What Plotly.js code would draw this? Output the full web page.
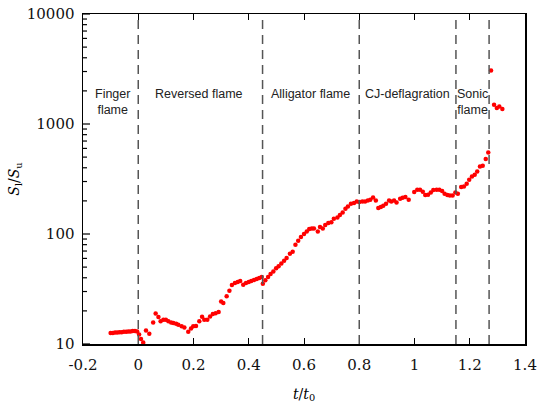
<!DOCTYPE html>
<html>
<head>
<meta charset="utf-8">
<script src="https://cdn.plot.ly/plotly-3.0.1.min.js"></script>
<style>
  html, body { margin: 0; padding: 0; background: #fff; }
  #myDiv { width: 546px; height: 406px; }
</style>
</head>
<body>
<div id="myDiv"></div>
<script>
// t/t0 and flame speed ratio
var tRatio = [
    -0.100, -0.092, -0.084, -0.076, -0.068, -0.060, -0.052, -0.044, -0.036, -0.028, -0.020, -0.012, -0.004,
    0.003, 0.010, 0.018, 0.028, 0.040, 0.054, 0.063, 0.073, 0.081, 0.091, 0.100, 0.109, 0.119, 0.127,
    0.137, 0.145, 0.157, 0.167, 0.181, 0.191, 0.199, 0.209, 0.221, 0.231, 0.239, 0.250, 0.260, 0.270,
    0.280, 0.291, 0.300, 0.308, 0.320, 0.330, 0.339, 0.350, 0.360, 0.369, 0.380, 0.390, 0.400, 0.409,
    0.419, 0.429, 0.438, 0.447, 0.451, 0.460, 0.470, 0.479, 0.489, 0.499, 0.508, 0.518, 0.528, 0.537,
    0.549, 0.559, 0.569, 0.579, 0.589, 0.600, 0.610, 0.619, 0.628, 0.636, 0.650, 0.658, 0.668, 0.677,
    0.688, 0.699, 0.708, 0.721, 0.730, 0.740, 0.750, 0.759, 0.770, 0.781, 0.791, 0.800, 0.811, 0.821,
    0.831, 0.840, 0.850, 0.860, 0.869, 0.878, 0.887, 0.897, 0.908, 0.916, 0.926, 0.935, 0.948, 0.957,
    0.967, 0.979, 0.999, 1.010, 1.020, 1.030, 1.039, 1.049, 1.059, 1.068, 1.080, 1.090, 1.100, 1.109,
    1.119, 1.128, 1.138, 1.148, 1.157, 1.169, 1.179, 1.189, 1.198, 1.208, 1.218, 1.227, 1.237, 1.247,
    1.258, 1.267, 1.277, 1.288, 1.298, 1.307, 1.318
];
var speedRatio = [
    12.6, 12.6, 12.7, 12.7, 12.8, 12.8, 12.9, 12.9, 13.0, 13.0, 13.1, 13.1, 13.0,
    12.2, 11.1, 10.3, 13.3, 12.4, 15.7, 18.9, 17.6, 16.1, 16.6, 16.6, 16.1, 15.7, 15.5,
    15.3, 15.0, 14.5, 14.1, 12.9, 13.8, 14.5, 14.6, 16.1, 17.7, 16.6, 16.6, 17.8, 18.7,
    19.0, 19.5, 24.4, 23.6, 27.1, 30.5, 34.4, 35.9, 36.6, 37.4, 34.6, 35.9, 36.6, 37.4,
    38.2, 39.0, 39.8, 40.6, 35.3, 37.9, 40.6, 43.3, 45.7, 48.7, 50.8, 54.0, 57.2, 60.5,
    66.2, 69.0, 80.0, 86.9, 93.9, 100, 105.6, 111.1, 112.4, 112.4, 105.6, 115.8, 112.4, 120.7,
    125.9, 127.6, 137.8, 141.5, 148.8, 157.2, 169.9, 178.2, 188.5, 191.3, 197.9, 195.3, 197.9, 197.9,
    202, 205, 215, 202, 172.4, 175.9, 180.8, 188.5, 202, 197.9, 202, 193.8, 209.3, 213.8,
    216.9, 205, 240.9, 252.7, 252.7, 242.4, 226.2, 227.6, 238.9, 251.2, 252.7, 252.7, 246, 232.5,
    226.2, 224.4, 224.4, 238.9, 232.5, 267.5, 270.9, 286.6, 311.6, 334, 346, 370.8, 411.7, 417.8,
    480.6, 552, 3070, 1497, 1398, 1445, 1369
];

// regime boundaries (t/t0) and labels
var phaseBoundaries = [0, 0.45, 0.8, 1.15, 1.27];
var phaseLabels = ['Finger<br>flame', 'Reversed flame', 'Alligator flame', 'CJ-deflagration', 'Sonic<br>flame'];
var phaseLabelX = [-0.095, 0.22, 0.625, 0.975, 1.21];

var xTickVals = [-0.2, 0, 0.2, 0.4, 0.6, 0.8, 1, 1.2, 1.4];
var xTickText = ['-0.2', '0', '0.2', '0.4', '0.6', '0.8', '1', '1.2', '1.4'];
var yTickVals = [10, 100, 1000, 10000];
var yTickText = ['10', '100', '1000', '10000'];
var yMinorVals = [20, 30, 40, 50, 60, 70, 80, 90,
    200, 300, 400, 500, 600, 700, 800, 900,
    2000, 3000, 4000, 5000, 6000, 7000, 8000, 9000];
var yRangeLog = [1, 4];
var plotWidthPx = 442;

var trace1 = {
    x: tRatio,
    y: speedRatio,
    mode: 'markers',
    type: 'scatter',
    marker: {color: '#ff0000', size: 4.5},
    showlegend: false
};

var shapes = phaseBoundaries.map(function (b) {
    return {
        type: 'line', xref: 'x', yref: 'paper',
        x0: b, x1: b, y0: 0, y1: 1,
        line: {color: '#555555', width: 1.5, dash: '9px,6px'}
    };
});

// y-axis ticks drawn as short inward lines (major + minor)
function yTick(v, len) {
    var f = (Math.log10(v) - yRangeLog[0]) / (yRangeLog[1] - yRangeLog[0]);
    return {
        type: 'line', xref: 'paper', yref: 'paper',
        x0: 0, x1: len / plotWidthPx, y0: f, y1: f,
        line: {color: '#000', width: 1.2}
    };
}
yTickVals.forEach(function (v) { shapes.push(yTick(v, 7)); });
yMinorVals.forEach(function (v) { shapes.push(yTick(v, 4)); });

var annotations = phaseLabels.map(function (txt, i) {
    return {
        text: txt, x: phaseLabelX[i], xref: 'x',
        y: 0.785, yref: 'paper', showarrow: false,
        font: {family: 'Liberation Sans, Arial', size: 12.5, color: '#222'}
    };
});

var tickFont = {family: 'DejaVu Serif', size: 15, color: '#111'};

var layout = {
    width: 546,
    height: 406,
    margin: {l: 83, r: 21, t: 14, b: 62},
    paper_bgcolor: '#fff',
    plot_bgcolor: '#fff',
    xaxis: {
        range: [-0.2, 1.4],
        tickvals: xTickVals,
        ticktext: xTickText,
        ticks: 'inside',
        ticklen: 6,
        tickcolor: '#000',
        ticklabelstandoff: 6,
        showgrid: false,
        zeroline: false,
        showline: true,
        linecolor: '#000',
        linewidth: 1.5,
        mirror: 'ticks',
        tickfont: tickFont,
        title: {text: '<i>t</i>/<i>t</i><sub>0</sub>', font: {family: 'DejaVu Serif', size: 14, color: '#000'}, standoff: 16}
    },
    yaxis: {
        type: 'log',
        range: yRangeLog,
        tickvals: yTickVals,
        ticktext: yTickText,
        ticks: '',
        ticklabelstandoff: 4,
        showgrid: false,
        zeroline: false,
        showline: true,
        linecolor: '#000',
        linewidth: 1.5,
        mirror: true,
        tickfont: tickFont,
        title: {text: '<i>S</i><sub>l</sub>/<i>S</i><sub>u</sub>', font: {family: 'DejaVu Serif', size: 14, color: '#000'}, standoff: 4}
    },
    shapes: shapes,
    annotations: annotations
};

Plotly.newPlot('myDiv', [trace1], layout, {displayModeBar: false, staticPlot: true});
</script>
</body>
</html>
